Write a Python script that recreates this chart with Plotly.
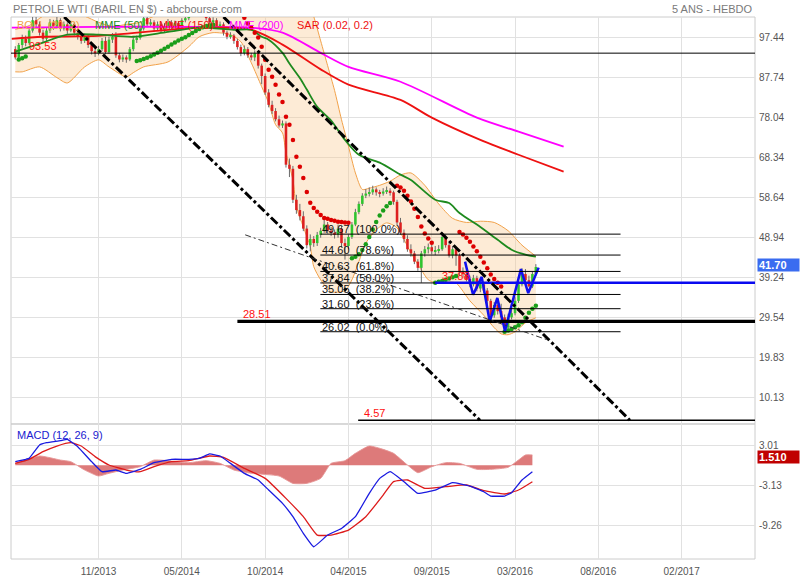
import pandas as pd
import plotly.graph_objects as go

BASE = pd.Timestamp("2013-11-25")


def wdate(w):
    return BASE + pd.Timedelta(days=7 * w)


# ---------------- weekly candles (week offsets from 25/11/2013) ----------------
candle_weeks = list(range(-24, 127))
opens = [94.5, 92.5, 95.5, 97.0, 96.0, 99.0, 101.5, 100.5, 98.5, 97.0, 99.0, 101.0, 100.0, 101.5, 99.5, 100.5,
         99.0, 100.5, 98.5, 97.5, 96.5, 97.5, 95.5, 94.0, 93.5, 94.5, 96.5, 93.8, 96.8, 97.5, 93.0, 92.0,
         92.5, 92.0, 94.5, 96.8, 97.2, 99.5, 102.0, 100.5, 101.0, 99.5, 100.5, 99.0, 100.0, 101.0, 100.0, 100.8,
         99.5, 101.5, 102.0, 103.0, 104.0, 105.0, 104.5, 103.0, 102.0, 101.0, 101.5, 100.0, 100.5, 98.5, 97.5, 97.8,
         96.5, 95.0, 93.5, 94.5, 93.0, 92.5, 93.5, 90.5, 88.0, 84.0, 81.0, 79.5, 77.5, 76.0, 76.5, 66.5,
         65.5, 58.0, 55.5, 54.0, 51.0, 47.0, 48.5, 47.5, 49.5, 50.5, 52.0, 50.5, 50.0, 49.5, 51.0, 47.5,
         46.8, 49.0, 52.0, 55.0, 57.0, 59.0, 59.5, 59.8, 60.5, 59.8, 59.5, 60.0, 60.2, 59.8, 57.5, 52.5,
         50.0, 48.5, 46.0, 45.0, 43.0, 41.5, 45.0, 46.0, 46.5, 45.5, 45.8, 46.0, 49.0, 47.0, 44.5, 46.0,
         44.5, 40.5, 40.0, 38.8, 37.5, 39.0, 36.5, 37.5, 36.0, 33.5, 30.0, 32.5, 31.0, 29.5, 27.0, 29.5,
         30.5, 33.5, 37.5, 40.0, 38.5, 37.0, 40.0]
highs = [95.2, 96.0, 98.0, 97.8, 99.8, 102.8, 102.4, 101.2, 99.2, 99.6, 101.8, 101.6, 102.6, 102.0, 101.2, 101.0,
         101.4, 101.0, 99.2, 98.2, 98.3, 98.0, 96.2, 94.8, 95.3, 97.2, 97.5, 97.5, 98.4, 98.6, 93.6, 93.2,
         93.0, 95.0, 97.4, 97.8, 100.2, 102.8, 102.6, 101.8, 101.5, 101.2, 101.0, 100.8, 101.8, 101.5, 101.4, 101.2,
         102.0, 102.6, 103.8, 104.8, 106.2, 107.0, 105.0, 103.5, 102.6, 102.2, 102.0, 101.2, 101.0, 99.0, 98.6, 98.2,
         97.0, 95.6, 95.4, 95.0, 93.6, 94.2, 94.0, 91.0, 88.6, 84.8, 82.0, 80.2, 78.4, 77.2, 77.0, 68.0,
         66.2, 59.2, 57.0, 55.2, 51.8, 49.6, 49.2, 50.2, 51.2, 53.2, 52.6, 51.4, 50.8, 52.0, 51.6, 48.6,
         49.6, 52.6, 55.8, 57.6, 59.6, 60.6, 61.0, 61.4, 61.0, 60.4, 60.8, 61.2, 60.8, 60.2, 58.0, 53.6,
         50.8, 49.4, 47.2, 45.6, 43.6, 45.6, 46.8, 47.4, 47.2, 46.8, 47.0, 50.2, 49.6, 47.8, 46.8, 46.6,
         45.0, 41.6, 40.8, 39.6, 39.8, 39.6, 38.2, 38.0, 36.6, 34.0, 33.2, 34.0, 32.8, 30.2, 30.4, 31.8,
         34.4, 38.4, 41.4, 41.2, 39.6, 40.6, 42.4]
lows = [92.0, 92.0, 94.8, 95.2, 95.6, 98.5, 99.8, 97.8, 96.2, 96.5, 98.4, 99.2, 99.5, 98.8, 99.0, 98.2,
        98.6, 97.8, 96.8, 95.8, 96.0, 94.8, 93.2, 92.6, 93.0, 94.0, 93.2, 93.4, 96.0, 92.4, 91.3, 91.4,
        91.2, 91.6, 94.0, 96.0, 96.8, 99.0, 99.8, 99.9, 98.8, 99.0, 98.4, 98.6, 99.5, 99.4, 99.6, 99.0,
        99.2, 101.0, 101.5, 102.4, 103.5, 103.8, 102.6, 101.4, 100.6, 100.5, 99.4, 99.5, 97.8, 96.9, 97.0, 95.8,
        94.4, 92.8, 93.0, 92.4, 91.8, 91.6, 89.8, 86.0, 83.4, 80.4, 78.8, 77.0, 75.5, 75.4, 65.8, 63.5,
        57.2, 54.6, 53.0, 50.4, 46.2, 45.5, 46.6, 46.8, 48.8, 50.0, 49.8, 49.2, 48.6, 48.8, 46.5, 43.5,
        46.0, 48.5, 51.6, 54.5, 56.5, 58.4, 58.8, 59.2, 59.0, 58.6, 59.0, 59.4, 59.0, 56.8, 51.8, 49.5,
        47.6, 45.4, 44.2, 42.4, 40.8, 37.9, 44.2, 45.0, 44.8, 44.6, 45.0, 45.6, 46.4, 44.0, 43.8, 42.0,
        39.5, 39.2, 38.2, 36.8, 37.0, 35.8, 35.6, 35.4, 32.6, 28.6, 29.4, 30.2, 28.6, 26.0, 26.6, 29.0,
        30.0, 33.0, 37.0, 38.0, 36.8, 36.6, 39.6]
closes = [92.5, 95.5, 97.0, 96.0, 99.0, 101.5, 100.5, 98.5, 97.0, 99.0, 101.0, 100.0, 101.5, 99.5, 100.5, 99.0,
          100.5, 98.5, 97.5, 96.5, 97.5, 95.5, 94.0, 93.5, 94.5, 96.5, 93.8, 96.8, 97.5, 93.0, 92.0, 92.5,
          92.0, 94.5, 96.8, 97.2, 99.5, 102.0, 100.5, 101.0, 99.5, 100.5, 99.0, 100.0, 101.0, 100.0, 100.8, 99.5,
          101.5, 102.0, 103.0, 104.0, 105.0, 104.5, 103.0, 102.0, 101.0, 101.5, 100.0, 100.5, 98.5, 97.5, 97.8, 96.5,
          95.0, 93.5, 94.5, 93.0, 92.5, 93.5, 90.5, 88.0, 84.0, 81.0, 79.5, 77.5, 76.0, 76.5, 66.5, 65.5,
          58.0, 55.5, 54.0, 51.0, 47.0, 48.5, 47.5, 49.5, 50.5, 52.0, 50.5, 50.0, 49.5, 51.0, 47.5, 46.8,
          49.0, 52.0, 55.0, 57.0, 59.0, 59.5, 59.8, 60.5, 59.8, 59.5, 60.0, 60.2, 59.8, 57.5, 52.5, 50.0,
          48.5, 46.0, 45.0, 43.0, 41.5, 45.0, 46.0, 46.5, 45.5, 45.8, 46.0, 49.0, 47.0, 44.5, 46.0, 44.5,
          40.5, 40.0, 38.8, 37.5, 39.0, 36.5, 37.5, 36.0, 33.5, 30.0, 32.5, 31.0, 29.5, 27.0, 29.5, 30.5,
          33.5, 37.5, 40.0, 38.5, 37.0, 40.0, 41.7]

# ---------------- indicators ----------------
boll_up_w = [-24, -20, -16, -12, -8, -4, 0, 4, 8, 12, 16, 20, 26, 32, 38, 44, 50, 56, 60, 62, 64, 66, 68, 70,
             72, 74, 76, 78, 81, 84, 87, 90, 94, 98, 102, 106, 110, 114, 118, 122, 126]
boll_up_v = [99.3, 100.2, 102.5, 103.5, 103.5, 102.5, 101.0, 100.0, 100.5, 101.0, 102.5, 103.5, 105, 107, 107,
             105, 104, 106, 107, 102.4, 96.5, 90.5, 84.5, 77.4, 71.0, 64.5, 60.5, 60.8, 61.5, 62.5, 64.0, 64.5,
             61.5, 57.0, 53.5, 52.5, 52.8, 52.5, 50.5, 47.0, 44.3]
boll_lo_w = [-24, -22, -17, -12, -9, -4, 0, 3, 8, 10, 13, 20, 26, 29, 33, 38, 41, 44, 47, 49, 51, 53, 54, 56,
             57, 59, 61, 62, 64, 67, 71, 73, 75, 77, 80, 83, 86, 90, 93, 95, 97, 100, 103, 107, 111, 114, 116,
             118, 120, 123, 126]
boll_lo_v = [89.0, 89.0, 90.2, 87.6, 86.3, 90.2, 91.9, 90.2, 87.8, 88.8, 90.2, 91.4, 95.1, 97.5, 98.5, 98.0,
             96.3, 91.2, 85.4, 81.5, 76.2, 74.2, 69.4, 62.8, 56.3, 51.4, 46.6, 41.8, 38.6, 35.7, 36.0, 38.6,
             43.0, 47.5, 50.7, 52.4, 51.2, 45.1, 41.0, 38.6, 37.9, 38.1, 37.8, 33.5, 30.0, 27.0, 25.5, 25.3,
             26.0, 28.2, 29.4]

mme50_w = [-24, -16, -9, 0, 10, 20, 29, 39, 44, 47, 49, 53, 55, 58, 60, 63, 67, 71, 75, 81, 87, 90, 97, 101,
           104, 110, 115, 119, 123, 126]
mme50_v = [93.9, 96.1, 98.0, 98.0, 97.5, 98.7, 99.7, 99.2, 99.2, 97.5, 96.8, 93.6, 91.0, 87.5, 84.7, 80.5,
           77.2, 72.5, 68.9, 67.0, 64.1, 62.8, 58.0, 57.2, 54.8, 51.4, 48.3, 45.9, 44.7, 44.2]
mme150_w = [-25, -16, 0, 29, 44, 53, 64, 72, 87, 96, 110, 121, 134]
mme150_v = [97.0, 97.5, 97.7, 99.7, 99.2, 95.6, 89.6, 85.9, 82.2, 77.9, 72.5, 68.9, 64.8]
mme200_w = [-25, 0, 29, 44, 53, 64, 72, 87, 109, 121, 134]
mme200_v = [99.7, 99.9, 99.9, 99.7, 98.5, 93.6, 90.2, 86.6, 77.9, 74.5, 70.9]

sar_green_w = [-23, -22, -21, 11, 12, 13, 14, 15, 16, 17, 18, 19, 20, 21, 22, 23, 24, 25, 26, 27, 28, 29, 30,
               31, 32, 33, 73, 74, 75, 76, 77, 78, 79, 80, 81, 82, 83, 84, 97, 98, 99, 100, 101, 102, 103,
               117, 118, 119, 120, 121, 122, 123, 124, 125, 126]
sar_green_v = [92.0, 92.3, 92.7, 91.6, 91.8, 92.1, 92.4, 92.8, 93.2, 93.6, 94.1, 94.6, 95.1, 95.6, 96.1, 96.6,
               97.0, 97.4, 97.9, 98.4, 98.9, 99.4, 99.8, 100.1, 100.3, 100.4, 43.8, 44.2, 44.8, 45.8, 47.2,
               49.0, 50.8, 52.6, 54.2, 55.4, 56.4, 57.2, 37.9, 38.1, 38.3, 38.6, 38.9, 39.2, 39.5, 26.0, 26.3,
               26.7, 27.1, 27.6, 28.3, 29.4, 30.6, 31.6, 32.3]
sar_red_w = [42, 43, 44, 45, 46, 47, 48, 49, 50, 51, 52, 53, 54, 55, 56, 57, 58, 59, 60, 61, 62, 63, 64, 65,
             66, 67, 68, 69, 70, 71, 72, 86, 87, 88, 89, 90, 91, 92, 93, 94, 95, 96, 104, 105, 106, 107,
             108, 109, 110, 111, 112, 113, 114, 115, 116]
sar_red_v = [102.1, 100.7, 99.7, 98.5, 97.3, 95.1, 91.9, 89.5, 87.8, 85.9, 83.5, 81.7, 78.1, 76.2, 72.5, 68.4,
             66.0, 63.3, 59.9, 57.3, 56.0, 55.1, 54.3, 53.6, 53.4, 53.1, 52.9, 52.7, 52.6, 52.5, 52.4, 61.4,
             61.0, 60.2, 59.0, 57.6, 55.8, 53.8, 51.5, 49.8, 48.6, 47.6, 50.2, 49.6, 48.8, 47.8, 46.7, 45.5,
             44.2, 42.8, 41.4, 39.9, 38.8, 37.9, 37.0]

# blue "W" pattern drawn by the author (week offset, price)
w_pattern_w = [105.6, 107.9, 110.4, 112.7, 114.9, 117.1, 121.7, 123.8, 126.8]
w_pattern_v = [43.0, 35.0, 39.3, 28.5, 34.2, 26.2, 41.2, 35.4, 41.55]

# MACD panel
macd_w = [-24, -21, -20, -17, -15, -11, -9, -6, -2, 1, 5, 8, 12, 16, 21, 26, 29, 32, 35, 38, 42, 46, 49, 53,
          56, 59, 62, 66, 70, 74, 78, 81, 84, 88, 92, 97, 102, 107, 111, 113, 117, 119, 122, 125]
macd_v = [0.56, 0.92, 1.07, 3.12, 3.47, 3.78, 3.99, 2.86, 0.56, -0.98, -0.72, -1.23, -0.62, 0.41, 0.92, 0.92,
          1.07, 1.74, 1.43, 0.30, -1.23, -2.25, -3.79, -5.84, -7.88, -10.44, -12.49, -10.70, -9.68, -7.88,
          -4.30, -2.00, -0.98, -2.51, -4.30, -3.79, -2.66, -3.18, -4.05, -4.71, -4.71, -4.20, -2.25, -0.98]
signal_w = [-24, -20, -16, -12, -8, -5, -1, 3, 8, 12, 16, 21, 26, 32, 36, 42, 48, 54, 59, 63, 67, 72, 77, 82,
            85, 89, 94, 100, 106, 111, 117, 121, 125]
signal_v = [0.30, 0.92, 2.09, 2.96, 3.47, 2.96, 1.33, 0.05, -0.72, -0.98, -0.21, 0.56, 0.71, 1.43, 1.22, -0.46,
            -2.00, -5.07, -7.88, -10.70, -10.70, -9.93, -7.88, -4.56, -2.51, -2.25, -3.53, -3.28, -3.02, -3.89,
            -4.40, -3.79, -2.51]
hist_w = [-24, -17, -11, -8, -4, 0, 3, 7, 12, 16, 20, 26, 31, 35, 39, 44, 52, 56, 60, 64, 67, 71, 74, 78, 82,
          85, 89, 92, 96, 100, 104, 109, 113, 118, 121, 123, 125]
hist_v = [0.30, 1.43, 0.81, 0.56, -0.72, -1.64, -1.23, -0.72, -0.21, 0.81, 0.71, 0.41, 0.71, 0.30, -0.72, -1.23,
          -1.64, -2.77, -2.77, -2.00, 0.30, 0.71, 1.84, 2.96, 2.45, 1.84, 0.05, -1.13, -0.21, 0.41, 0.30, -0.62,
          -0.62, -0.31, 0.81, 1.59, 1.59]

# levels and lines
fib_vals = [49.67, 44.60, 40.63, 37.84, 35.05, 31.60, 26.02]
fib_pct = ["100.0%", "78.6%", "61.8%", "50.0%", "38.2%", "23.6%", "0.0%"]
fib_span_w = [63.9, 150.4]
level_9353 = 93.53
level_2851 = 28.51
level_2851_start_w = 40.0
level_457 = 4.57
level_457_start_w = 74.8
level_3788 = 37.88
level_3788_start_w = 97.0
trend_a = [(-9.9, 102.29), (109.9, 4.57)]
trend_b = [(36.0, 102.29), (153.1, 4.57)]
trend_c = [(42.25, 49.5), (129.5, 24.0)]

price_ticks = [97.44, 87.74, 78.04, 68.34, 58.64, 48.94, 39.24, 29.54, 19.83, 10.13]
macd_ticks = [3.01, -3.13, -9.26]
x_tick_weeks = [0, 24, 48, 72, 96, 120, 144, 168]
x_tick_text = ["11/2013", "05/2014", "10/2014", "04/2015", "09/2015", "03/2016", "08/2016", "02/2017"]
last_price = 41.70
last_hist = 1.510

# ---------------- figure ----------------
FONT = "Liberation Sans, Arial, sans-serif"
GREEN = "#2fc42f"
RED = "#dd2020"
GRID = "#e1e1e1"
PRICE_RANGE = [3.66, 102.29]

dates = [wdate(w) for w in candle_weeks]
fig = go.Figure()

# --- base price layer (y): Bollinger band fill + wicks ---
fig.add_trace(go.Scatter(x=[wdate(w) for w in boll_lo_w], y=boll_lo_v, mode="lines",
                         line=dict(color="#f2a24a", width=1, shape="spline", smoothing=0.7),
                         hoverinfo="skip", showlegend=False, xaxis="x", yaxis="y"))
fig.add_trace(go.Scatter(x=[wdate(w) for w in boll_up_w], y=boll_up_v, mode="lines",
                         line=dict(color="#f2a24a", width=1, shape="spline", smoothing=0.7),
                         fill="tonexty", fillcolor="rgba(250,200,140,0.36)",
                         hoverinfo="skip", showlegend=False, xaxis="x", yaxis="y"))
wick_x, wick_y = [], []
for d, h, l in zip(dates, highs, lows):
    wick_x += [d, d, None]
    wick_y += [l, h, None]
fig.add_trace(go.Scatter(x=wick_x, y=wick_y, mode="lines", line=dict(color="#6a6a6a", width=1),
                         hoverinfo="skip", showlegend=False, xaxis="x", yaxis="y"))

# --- overlay price layer (y3): candle bodies, moving averages, SAR, pattern ---
body_base = [min(o, c) for o, c in zip(opens, closes)]
body_len = [max(abs(c - o), 0.25) for o, c in zip(opens, closes)]
body_col = [GREEN if c >= o else RED for o, c in zip(opens, closes)]
fig.add_trace(go.Bar(x=dates, y=body_len, base=body_base, width=0.74 * 7 * 86400000,
                     marker=dict(color=body_col, line=dict(width=0)), hoverinfo="skip",
                     showlegend=False, xaxis="x", yaxis="y3"))

for wv, vv, col in [(mme200_w, mme200_v, "#ff00ff"), (mme150_w, mme150_v, "#ee1111"),
                    (mme50_w, mme50_v, "#1e8a1e")]:
    fig.add_trace(go.Scatter(x=[wdate(w) for w in wv], y=vv, mode="lines",
                             line=dict(color=col, width=1.8, shape="spline", smoothing=0.8),
                             hoverinfo="skip", showlegend=False, xaxis="x", yaxis="y3"))

fig.add_trace(go.Scatter(x=[wdate(w) for w in sar_green_w], y=sar_green_v, mode="markers",
                         marker=dict(color="#1a9e1a", size=4.5), hoverinfo="skip", showlegend=False,
                         xaxis="x", yaxis="y3"))
fig.add_trace(go.Scatter(x=[wdate(w) for w in sar_red_w], y=sar_red_v, mode="markers",
                         marker=dict(color="#dd0000", size=4.5), hoverinfo="skip", showlegend=False,
                         xaxis="x", yaxis="y3"))

fig.add_trace(go.Scatter(x=[wdate(w) for w in w_pattern_w], y=w_pattern_v, mode="lines",
                         line=dict(color="#1010ee", width=2.5), hoverinfo="skip", showlegend=False,
                         xaxis="x", yaxis="y3"))

# --- MACD panel ---
fig.add_trace(go.Scatter(x=[wdate(w) for w in hist_w], y=hist_v, mode="lines",
                         line=dict(color="rgba(230,150,150,0.9)", width=1, shape="spline", smoothing=0.5),
                         fill="tozeroy", fillcolor="rgba(200,40,40,0.62)",
                         hoverinfo="skip", showlegend=False, xaxis="x2", yaxis="y2"))
fig.add_trace(go.Scatter(x=[wdate(w) for w in signal_w], y=signal_v, mode="lines",
                         line=dict(color="#dd1a1a", width=1.3, shape="spline", smoothing=0.4),
                         hoverinfo="skip", showlegend=False, xaxis="x2", yaxis="y2"))
fig.add_trace(go.Scatter(x=[wdate(w) for w in macd_w], y=macd_v, mode="lines",
                         line=dict(color="#1a1ae0", width=1.3, shape="spline", smoothing=0.3),
                         hoverinfo="skip", showlegend=False, xaxis="x2", yaxis="y2"))

shapes = []
# panel frames
shapes.append(dict(type="rect", xref="paper", yref="paper", x0=0, x1=1, y0=0.2491, y1=1,
                   line=dict(color="#cccccc", width=1), layer="below"))
shapes.append(dict(type="rect", xref="paper", yref="paper", x0=0, x1=1, y0=0, y1=0.2491,
                   line=dict(color="#cccccc", width=1), layer="below"))
# horizontal levels
shapes.append(dict(type="line", xref="x domain", yref="y", x0=0, x1=1, y0=level_9353, y1=level_9353,
                   line=dict(color="black", width=1)))
for v in fib_vals:
    shapes.append(dict(type="line", xref="x", yref="y", x0=wdate(fib_span_w[0]), x1=wdate(fib_span_w[1]),
                       y0=v, y1=v, line=dict(color="black", width=1)))
shapes.append(dict(type="line", xref="x", yref="y", x0=wdate(level_2851_start_w), x1=wdate(189.2),
                   y0=level_2851, y1=level_2851, line=dict(color="black", width=3.2)))
shapes.append(dict(type="line", xref="x", yref="y", x0=wdate(level_457_start_w), x1=wdate(189.2),
                   y0=level_457, y1=level_457, line=dict(color="black", width=1.5)))
shapes.append(dict(type="line", xref="x", yref="y", x0=wdate(level_3788_start_w), x1=wdate(189.2),
                   y0=level_3788, y1=level_3788, line=dict(color="#0a0af0", width=2.5)))
for (p0, p1), wdt in [((trend_a[0], trend_a[1]), 3), ((trend_b[0], trend_b[1]), 3)]:
    shapes.append(dict(type="line", xref="x", yref="y", x0=wdate(p0[0]), y0=p0[1], x1=wdate(p1[0]), y1=p1[1],
                       line=dict(color="black", width=wdt, dash="dashdot")))
shapes.append(dict(type="line", xref="x", yref="y", x0=wdate(trend_c[0][0]), y0=trend_c[0][1],
                   x1=wdate(trend_c[1][0]), y1=trend_c[1][1],
                   line=dict(color="#333333", width=1, dash="6px,3px,2px,3px")))

ann = []
small = dict(family=FONT, size=11)
for v, p in zip(fib_vals, fib_pct):
    ann.append(dict(x=wdate(fib_span_w[0]), y=v, xref="x", yref="y", text=f"{v:.2f}  ({p})", showarrow=False,
                    xanchor="left", yanchor="bottom", yshift=-3, font=dict(small, color="#111111")))
for val, wst in [(level_9353, -20.5), (level_2851, 41.1), (level_457, 75.9), (level_3788, 98.4)]:
    ann.append(dict(x=wdate(wst), y=val, xref="x", yref="y", text=f"{val:.2f}", showarrow=False,
                    xanchor="left", yanchor="bottom", yshift=-1, font=dict(small, color="#ff1010")))
# title + legend
ann.append(dict(x=0, y=1.0148, xref="paper", yref="paper", text="PETROLE WTI (BARIL EN $) - abcbourse.com",
                showarrow=False, xanchor="left", yanchor="middle", font=dict(family=FONT, size=11, color="#7a7a7a")))
ann.append(dict(x=1, y=1.0148, xref="paper", yref="paper", text="5 ANS - HEBDO",
                showarrow=False, xanchor="right", yanchor="middle", font=dict(family=FONT, size=11, color="#7a7a7a")))
for txt, xp, col in [("BOLL (20, 2)", 0.0054, "#f2a24a"), ("MME (50)", 0.110, "#1e8a1e"),
                     ("MME (150)", 0.196, "#ee1111"), ("MME (200)", 0.290, "#ff00ff"),
                     ("SAR (0.02, 0.2)", 0.382, "#ee1111")]:
    ann.append(dict(x=xp, y=0.9858, xref="paper", yref="paper", text=txt, showarrow=False,
                    xanchor="left", yanchor="middle", font=dict(small, color=col)))
ann.append(dict(x=0.0054, y=0.228, xref="paper", yref="paper", text="MACD (12, 26, 9)", showarrow=False,
                xanchor="left", yanchor="middle", font=dict(small, color="#2020d0")))
ann.append(dict(x=1.0027, y=last_price, xref="paper", yref="y", text=f"<b>{last_price:.2f}</b>", showarrow=False,
                xanchor="left", yanchor="middle", yshift=2, bgcolor="#3a6cf0", width=39, height=10, align="left",
                borderpad=1, font=dict(family=FONT, size=11, color="white")))
ann.append(dict(x=1.0027, y=last_hist, xref="paper", yref="y2", text=f"<b>{last_hist:.3f}</b>", showarrow=False,
                xanchor="left", yanchor="middle", yshift=-2, bgcolor="#c00000", width=39, height=10, align="left",
                borderpad=1, font=dict(family=FONT, size=11, color="white")))

x_range = [wdate(-25.23), wdate(189.14)]
tick_dates = [wdate(w) for w in x_tick_weeks]
axis_font = dict(family=FONT, size=10, color="#555555")

fig.update_layout(
    width=800, height=580, autosize=False,
    margin=dict(l=11, r=45, t=17, b=21, autoexpand=False),
    paper_bgcolor="white", plot_bgcolor="white",
    showlegend=False, barmode="overlay",
    font=dict(family=FONT),
    xaxis=dict(domain=[0, 1], anchor="y", range=x_range, tickvals=tick_dates, showticklabels=False,
               showgrid=True, gridcolor=GRID, zeroline=False, ticks="", automargin=False),
    xaxis2=dict(domain=[0, 1], anchor="y2", matches="x", range=x_range, tickvals=tick_dates,
                ticktext=x_tick_text, showgrid=True, gridcolor=GRID, zeroline=False, ticks="",
                tickfont=axis_font, ticklabelstandoff=5, automargin=False),
    yaxis=dict(domain=[0.2491, 1], anchor="x", side="right", range=PRICE_RANGE, tickvals=price_ticks,
               ticktext=[f"{t:.2f}" for t in price_ticks], showgrid=True, gridcolor=GRID, zeroline=False,
               ticks="", tickfont=axis_font, ticklabelstandoff=3, automargin=False),
    yaxis3=dict(overlaying="y", anchor="x", side="right", range=PRICE_RANGE, visible=False,
                showgrid=False, zeroline=False, automargin=False),
    yaxis2=dict(domain=[0, 0.2491], anchor="x2", side="right", range=[-14.37, 6.34], tickvals=macd_ticks,
                ticktext=[f"{t:.2f}" for t in macd_ticks], showgrid=True, gridcolor=GRID, zeroline=False,
                ticks="", tickfont=axis_font, ticklabelstandoff=3, automargin=False),
    shapes=shapes,
    annotations=ann,
)

fig.write_html("out.html", config={"displayModeBar": False},
               post_script="document.body.style.margin='0px';")
